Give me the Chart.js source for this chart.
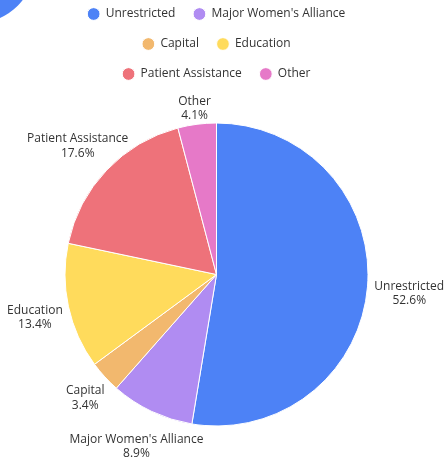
<!DOCTYPE html>
<html>
<head>
<meta charset="utf-8">
<script src="https://cdn.jsdelivr.net/npm/chart.js@4"></script>
<style>
    html, body { margin: 0; padding: 0; background: #fff; overflow: hidden; }
    .wrap { position: relative; width: 444px; height: 459px; }
    .blob {
        position: absolute; left: -83px; top: -95px;
        width: 118px; height: 118px; border-radius: 50%;
        background: #4d82f6;
    }
    canvas { position: absolute; left: 0; top: 0; }
</style>
</head>
<body>
<div class="wrap">
    <div class="blob"></div>
    <canvas id="funds-chart" width="444" height="459"></canvas>
</div>
<script>
const categories = ["Unrestricted", "Major Women's Alliance", "Capital", "Education", "Patient Assistance", "Other"];
const shares = [52.6, 8.9, 3.4, 13.4, 17.6, 4.1];
const colors = ["#4d82f6", "#b08cf2", "#f2b86e", "#ffdb5c", "#ee727a", "#e679c8"];

const FONT = "'Open Sans', 'Noto Sans', sans-serif";
const TEXT = "#333333";

// labels outside each slice, name + percentage
const outerLabels = {
    id: "outerLabels",
    afterDatasetsDraw(chart) {
        const { ctx } = chart;
        const meta = chart.getDatasetMeta(0);
        const lineH = 14.5;

        ctx.save();
        ctx.font = `12px ${FONT}`;
        ctx.fillStyle = TEXT;
        ctx.textAlign = "center";
        ctx.textBaseline = "middle";

        meta.data.forEach((arc, i) => {
            const { x, y, startAngle, endAngle, outerRadius } = arc.getProps(
                ["x", "y", "startAngle", "endAngle", "outerRadius"], true);
            const mid = (startAngle + endAngle) / 2;
            const vx = Math.cos(mid);
            const vy = Math.sin(mid);
            const lines = [categories[i], `${shares[i].toFixed(1)}%`];
            const w = Math.max(...lines.map((t) => ctx.measureText(t).width));
            const d = outerRadius + 18 + 0.6 * Math.abs(vx) * w / 2 + (vx > 0.9 ? 3 : 0);
            const cx = x + vx * d;
            const cy = y + vy * d + 3.5;
            ctx.fillText(lines[0], cx, cy - lineH / 2);
            ctx.fillText(lines[1], cx, cy + lineH / 2);
        });
        ctx.restore();
    },
};

new Chart(document.getElementById("funds-chart"), {
    type: "pie",
    data: {
        labels: categories,
        datasets: [
            {
                data: shares,
                backgroundColor: colors,
                borderColor: "#ffffff",
                borderWidth: 1,
            },
        ],
    },
    options: {
        responsive: false,
        animation: false,
        layout: {
            padding: { top: -10, bottom: -4, left: 64.5, right: 75.5 },
        },
        plugins: {
            legend: {
                position: "top",
                labels: {
                    usePointStyle: true,
                    pointStyle: "circle",
                    boxWidth: 12,
                    boxHeight: 9,
                    padding: 18,
                    color: TEXT,
                    font: { family: FONT, size: 12 },
                },
            },
            tooltip: { enabled: false },
        },
    },
    plugins: [outerLabels],
});
</script>
</body>
</html>
